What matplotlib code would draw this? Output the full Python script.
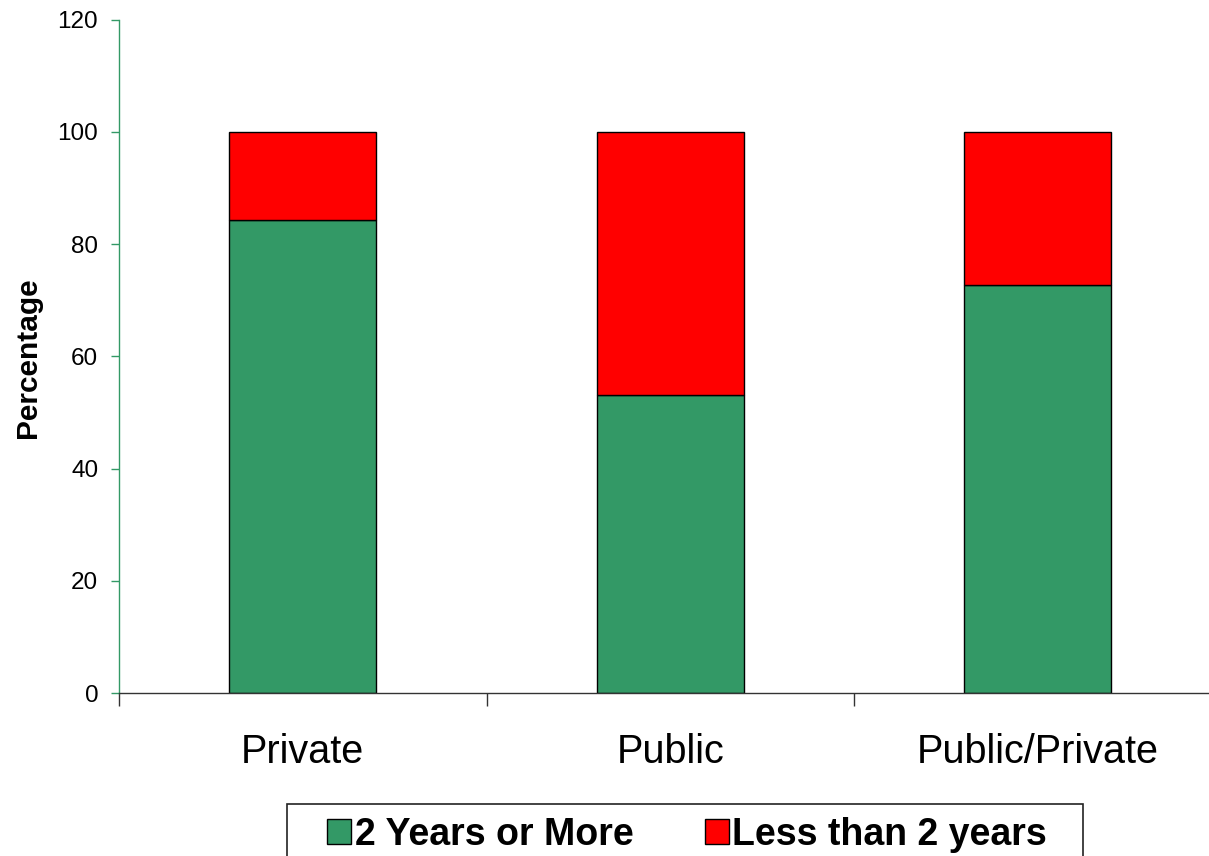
import matplotlib
matplotlib.use("Agg")
import matplotlib.pyplot as plt
from matplotlib.patches import Rectangle
import numpy as np

categories = ["Private", "Public", "Public/Private"]
two_years_or_more = [84.3, 53.1, 72.7]
less_than_two_years = [100 - v for v in two_years_or_more]
series_labels = ["2 Years or More", "Less than 2 years"]
yticks = [0, 20, 40, 60, 80, 100, 120]

green = "#339966"
red = "#FF0000"

plt.rcParams["font.family"] = ["Liberation Sans", "DejaVu Sans"]

W, H = 1209, 856
fig = plt.figure(figsize=(W / 100, H / 100), dpi=100)
ax = fig.add_axes([119 / W, 1 - 693 / H, (1221.5 - 119) / W, (693 - 19.6) / H])

x = np.arange(len(categories))
b1 = ax.bar(x, two_years_or_more, width=0.4, color=green, edgecolor="black", linewidth=1.0,
            label=series_labels[0])
b2 = ax.bar(x, less_than_two_years, width=0.4, bottom=two_years_or_more, color=red,
            edgecolor="black", linewidth=1.0, label=series_labels[1])

ax.set_xlim(-0.5, 2.5)
ax.set_ylim(0, 120)
ax.set_yticks(yticks)
ax.tick_params(axis="y", direction="out", length=6, width=1, color=green, pad=9,
               labelsize=17.5)
ax.set_xticks(x)
ax.set_xticklabels(categories)
ax.tick_params(axis="x", which="major", length=0, pad=29, labelsize=28.5)
ax.set_xticks([-0.5, 0.5, 1.5, 2.5], minor=True)
ax.tick_params(axis="x", which="minor", direction="out", length=9, width=1, color="#333333")

for side in ("top", "right"):
    ax.spines[side].set_visible(False)
ax.spines["left"].set_color(green)
ax.spines["left"].set_linewidth(1)
ax.spines["bottom"].set_color("#333333")
ax.spines["bottom"].set_linewidth(1)

fig.text(28 / W, 1 - 358 / H, "Percentage", rotation=90, ha="center", va="center",
         fontsize=21.5, fontweight="bold")

# legend box, open at the bottom edge of the figure
fig.patches.append(Rectangle((287 / W, -0.02), (1083 - 287) / W, 0.02 + 1 - 804 / H,
                             transform=fig.transFigure, facecolor="white",
                             edgecolor="#222222", linewidth=1.2, zorder=1))

leg = fig.legend(handles=[b1, b2], loc="center", bbox_to_anchor=(687 / W, 1 - 835 / H),
                 ncol=2, frameon=False, prop={"weight": "bold", "size": 27},
                 handlelength=0.64, handleheight=0.64, handletextpad=0.1,
                 columnspacing=1.9, borderpad=0, borderaxespad=0)
leg.set_zorder(3)

fig.savefig("out.png", dpi=100)
